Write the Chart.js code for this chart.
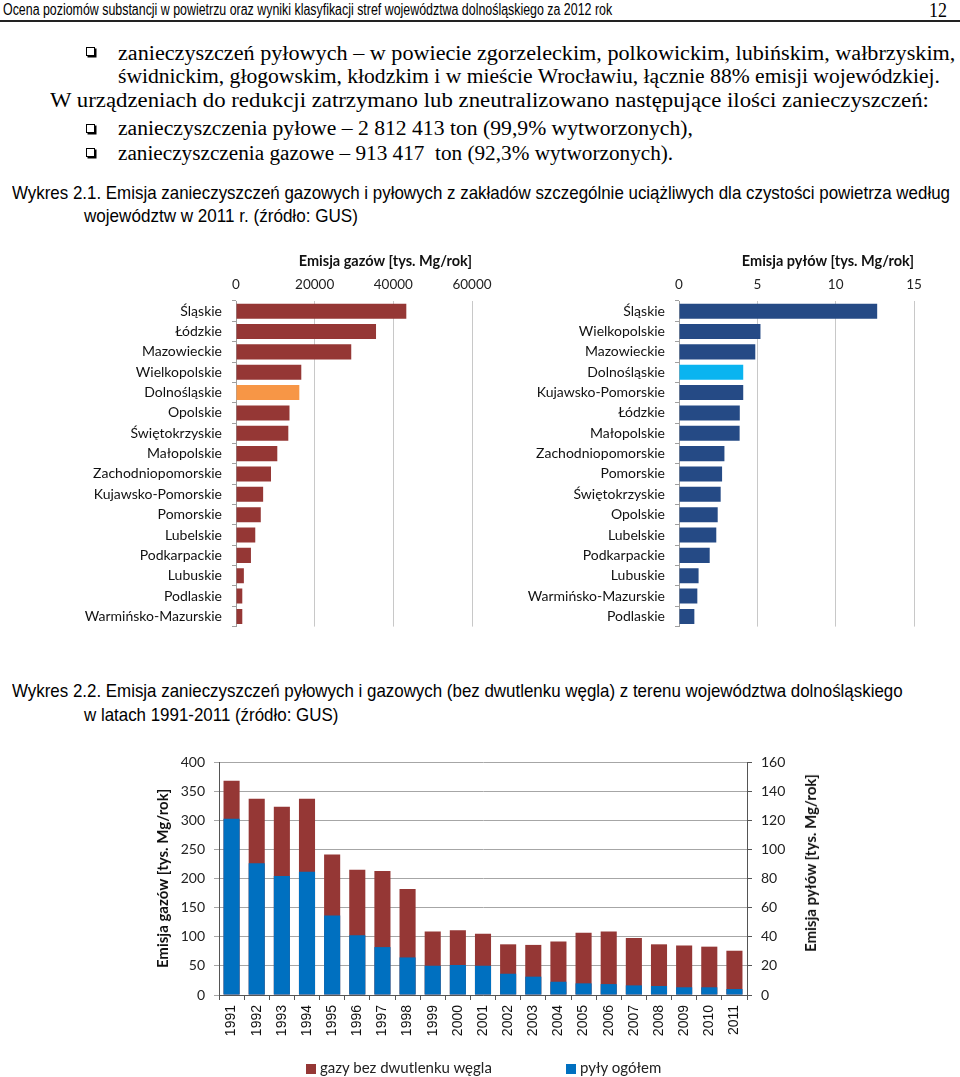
<!DOCTYPE html>
<html lang="pl">
<head>
<meta charset="UTF-8">
<title>Wykres 2.1 i 2.2 - emisja zanieczyszczeń</title>
<script src="https://cdn.jsdelivr.net/npm/chart.js"></script>
<style>
  body { margin:0; width:960px; height:1077px; position:relative; background:#fff; overflow:hidden; }
  .ln { position:absolute; white-space:pre; transform-origin:0 50%; color:#000; }
  .serif { font-family:"Liberation Serif","Times New Roman",serif; font-size:20px; line-height:24px; }
  .sans { font-family:"Liberation Sans",Arial,sans-serif; font-size:18.5px; line-height:24px; }
  .head { font-family:"Liberation Sans",Arial,sans-serif; font-size:16px; line-height:20px; }
  .box { position:absolute; width:7px; height:7px; border:1px solid #000; box-shadow:1.5px 1.5px 0 #000; }
  .hr { position:absolute; left:0; width:960px; top:20px; border-top:2px solid #222; }
  .cv { position:absolute; }
  .leg { position:absolute; font-family:Lato,sans-serif; font-size:15px; line-height:18px; color:#222; white-space:nowrap; }
  .leg i { display:inline-block; width:10px; height:10px; margin-right:4px; vertical-align:-1px; }
  .ytitle { position:absolute; font-family:Lato,sans-serif; font-size:15px; font-weight:bold; color:#111;
            white-space:nowrap; transform:translate(-50%,-50%) rotate(-90deg); }
</style>
</head>
<body>
<div class="hr"></div>
<div class="box" style="left:86px;top:47px"></div>
<div class="box" style="left:86px;top:124px"></div>
<div class="box" style="left:86px;top:148px"></div>

<canvas id="gasChart" class="cv" width="420" height="400" style="left:80px;top:245px"></canvas>
<canvas id="dustChart" class="cv" width="440" height="400" style="left:520px;top:245px"></canvas>
<canvas id="yearChart" class="cv" width="680" height="320" style="left:150px;top:740px"></canvas>

<div class="ytitle" style="left:810px;top:863px">Emisja pyłów [tys. Mg/rok]</div>
<div class="leg" style="left:306px;top:1058px"><i style="background:#953735"></i>gazy bez dwutlenku węgla</div>
<div class="leg" style="left:566px;top:1058px"><i style="background:#0070C0"></i>pyły ogółem</div>

<script>
  // Wykres 2.1 - emisja gazów wg województw (tys. Mg/rok)
  const gasRegions = ['Śląskie', 'Łódzkie', 'Mazowieckie', 'Wielkopolskie', 'Dolnośląskie', 'Opolskie',
    'Świętokrzyskie', 'Małopolskie', 'Zachodniopomorskie', 'Kujawsko-Pomorskie', 'Pomorskie',
    'Lubelskie', 'Podkarpackie', 'Lubuskie', 'Podlaskie', 'Warmińsko-Mazurskie'];
  const gasValues = [43300, 35600, 29300, 16600, 16100, 13600, 13300, 10500, 8900, 6900, 6300, 4900, 3800, 2000, 1600, 1600];

  // Wykres 2.1 - emisja pyłów wg województw (tys. Mg/rok)
  const dustRegions = ['Śląskie', 'Wielkopolskie', 'Mazowieckie', 'Dolnośląskie', 'Kujawsko-Pomorskie',
    'Łódzkie', 'Małopolskie', 'Zachodniopomorskie', 'Pomorskie', 'Świętokrzyskie', 'Opolskie',
    'Lubelskie', 'Podkarpackie', 'Lubuskie', 'Warmińsko-Mazurskie', 'Podlaskie'];
  const dustValues = [12.65, 5.2, 4.87, 4.1, 4.1, 3.88, 3.87, 2.9, 2.75, 2.66, 2.47, 2.38, 1.96, 1.25, 1.17, 0.98];

  // Wykres 2.2 - dolnośląskie 1991-2011
  const years = ['1991', '1992', '1993', '1994', '1995', '1996', '1997', '1998', '1999', '2000', '2001',
    '2002', '2003', '2004', '2005', '2006', '2007', '2008', '2009', '2010', '2011'];
  const gasByYear = [368, 337, 323, 337, 241, 215, 213, 182, 109, 111, 105, 87, 86, 92, 107, 109, 98, 87, 85, 83, 76];
  const dustByYear = [121, 90.5, 81.8, 84.6, 54.6, 41.1, 32.9, 25.8, 20.1, 20.6, 20.1, 14.6, 12.6, 9.1, 8.0, 7.5, 6.6, 6.2, 5.3, 5.3, 4.1];

  // text lines: [class, text, left, centre y, width in the page]
  const lines = [
    ['head', 'Ocena poziomów substancji w powietrzu oraz wyniki klasyfikacji stref województwa dolnośląskiego za 2012 rok', 3, 10, 609],
    ['serif', '12', 929, 10, 18],
    ['serif', 'zanieczyszczeń pyłowych – w powiecie zgorzeleckim, polkowickim, lubińskim, wałbrzyskim,', 118, 53, 837],
    ['serif', 'świdnickim, głogowskim, kłodzkim i w mieście Wrocławiu, łącznie 88% emisji wojewódzkiej.', 118, 76, 822],
    ['serif', 'W urządzeniach do redukcji zatrzymano lub zneutralizowano następujące ilości zanieczyszczeń:', 50, 100, 879],
    ['serif', 'zanieczyszczenia pyłowe – 2 812 413 ton (99,9% wytworzonych),', 118, 128, 575],
    ['serif', 'zanieczyszczenia gazowe – 913 417  ton (92,3% wytworzonych).', 118, 153, 555],
    ['sans', 'Wykres 2.1. Emisja zanieczyszczeń gazowych i pyłowych z zakładów szczególnie uciążliwych dla czystości powietrza według', 12, 193, 938],
    ['sans', 'województw w 2011 r. (źródło: GUS)', 84, 216, 274],
    ['sans', 'Wykres 2.2. Emisja zanieczyszczeń pyłowych i gazowych (bez dwutlenku węgla) z terenu województwa dolnośląskiego', 12, 691, 891],
    ['sans', 'w latach 1991-2011 (źródło: GUS)', 84, 715, 254]
  ];
  lines.forEach(l => {
    const d = document.createElement('div');
    d.className = 'ln ' + l[0];
    d.textContent = l[1];
    d.style.left = l[2] + 'px';
    d.style.top = (l[3] - (l[0] === 'head' ? 10 : 12)) + 'px';
    document.body.appendChild(d);
    d.style.transform = 'scaleX(' + (l[4] / d.offsetWidth) + ')';
  });

  const RED = '#953735', ORANGE = '#F79646', NAVY = '#254A85', CYAN = '#0AB4F0', BLUE = '#0070C0';
  const font = (size, weight) => ({ family: 'Lato', size: size, weight: weight || 'normal' });

  function regionChart(id, labels, values, color, hiColor, max, step, title, yWidth, padRight) {
    new Chart(document.getElementById(id), {
      type: 'bar',
      data: {
        labels: labels,
        datasets: [{
          data: values,
          backgroundColor: labels.map(l => l === 'Dolnośląskie' ? hiColor : color),
          barPercentage: 0.74,
          categoryPercentage: 1
        }]
      },
      options: {
        indexAxis: 'y',
        responsive: false,
        animation: false,
        layout: { padding: { right: padRight, bottom: 3 } },
        plugins: { legend: { display: false }, tooltip: { enabled: false } },
        scales: {
          x: {
            position: 'top', min: 0, max: max,
            ticks: { stepSize: step, padding: 8, color: '#222', font: font(13.5), callback: v => String(v) },
            grid: { color: '#C8C8C8', drawTicks: false },
            border: { display: false },
            title: { display: true, text: title, align: 'end', color: '#111', font: font(14.5, 'bold'), padding: { top: 8, bottom: 0 } },
            afterFit: s => { s.height = 56; }
          },
          y: {
            ticks: { padding: 10, color: '#111', font: font(14), autoSkip: false },
            grid: { drawOnChartArea: false, tickLength: 4, color: '#A0A0A0' },
            border: { color: '#A0A0A0' },
            afterFit: s => { s.width = yWidth; }
          }
        }
      }
    });
  }

  regionChart('gasChart', gasRegions, gasValues, RED, ORANGE, 60000, 20000, 'Emisja gazów [tys. Mg/rok]', 156, 28);
  regionChart('dustChart', dustRegions, dustValues, NAVY, CYAN, 15, 5, 'Emisja pyłów [tys. Mg/rok]', 159, 46);

  // gas on the left axis, dust on the right axis, bars overlapping (dust in front)
  new Chart(document.getElementById('yearChart'), {
    type: 'bar',
    data: {
      labels: years,
      datasets: [
        { label: 'gazy bez dwutlenku węgla', data: gasByYear, yAxisID: 'y', backgroundColor: RED,
          order: 2, grouped: false, barPercentage: 0.64, categoryPercentage: 1 },
        { label: 'pyły ogółem', data: dustByYear, yAxisID: 'y2', backgroundColor: BLUE,
          order: 1, grouped: false, barPercentage: 0.64, categoryPercentage: 1 }
      ]
    },
    options: {
      responsive: false,
      animation: false,
      layout: { padding: { top: 22 } },
      plugins: { legend: { display: false }, tooltip: { enabled: false } },
      scales: {
        x: {
          ticks: { minRotation: 90, maxRotation: 90, padding: 5, color: '#111', font: { family: 'Liberation Sans', size: 14 }, autoSkip: false },
          grid: { drawOnChartArea: false, tickLength: 5, color: '#555' },
          border: { color: '#555' },
          afterFit: s => { s.height = 65; }
        },
        y: {
          position: 'left', min: 0, max: 400,
          ticks: { stepSize: 50, padding: 9, color: '#222', font: font(14) },
          grid: { color: '#A6A6A6', tickLength: 5 },
          border: { color: '#555' },
          title: { display: true, text: 'Emisja gazów [tys. Mg/rok]', color: '#111', font: font(15, 'bold'), padding: { top: 4, bottom: 0 } },
          afterFit: s => { s.width = 69; }
        },
        y2: {
          position: 'right', min: 0, max: 160,
          ticks: { stepSize: 20, padding: 9, color: '#222', font: font(14) },
          grid: { drawOnChartArea: false, tickLength: 5, color: '#555' },
          border: { color: '#555' },
          afterFit: s => { s.width = 83; }
        }
      }
    }
  });
</script>
</body>
</html>
